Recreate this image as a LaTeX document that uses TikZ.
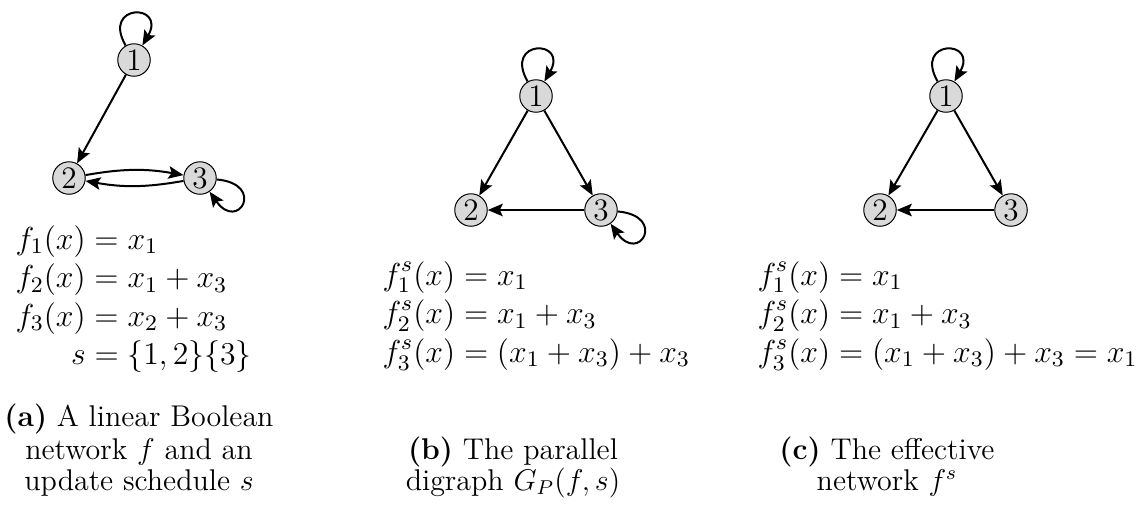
\RequirePackage{fix-cm}
\documentclass[tikz,border=0pt]{standalone}
\usepackage{amsmath}
\usepackage{amssymb}
\usepackage{tikz}
\usetikzlibrary{arrows.meta, positioning}
\tikzset{
    vertexnode/.style={
        circle,
        draw=black,
        fill=black!15,
        line width=0.4pt,
        inner sep=0pt,
        minimum size=13pt,
        font=\fontsize{12.5}{12.5}\selectfont
    },
    arcedge/.style={
        -{Stealth[length=6pt, width=5pt, inset=1.2pt]},
        line width=0.8pt,
        draw=black
    },
    selfloop/.style={
        arcedge,
        out=120, in=60, looseness=7.5
    },
    eqblock/.style={
        inner sep=0pt,
        anchor=base west,
        font=\fontsize{12.7}{12.7}\selectfont\setlength{\jot}{1.1pt}
    },
    captionline/.style={
        inner sep=0pt,
        anchor=base,
        font=\fontsize{12}{12}\selectfont
    }
}

\begin{document}
\begin{tikzpicture}[x=0.4pt, y=-0.4pt]
    \useasboundingbox (0,0) rectangle (1143,508);

    % (a) network f
    \node[vertexnode] (a1) at (134,60) {1};
    \node[vertexnode] (a2) at (69,178) {2};
    \node[vertexnode] (a3) at (200,178) {3};

    \draw[selfloop] (a1) to (a1);
    \draw[arcedge] (a1) -- (a2);
    \draw[arcedge] (a2) to[bend left=10] (a3);
    \draw[arcedge] (a3) to[bend left=10] (a2);
    \draw[arcedge] (a3) to[out=-5, in=-55, looseness=9] (a3);

    \node[eqblock] (eqa) at (15,249) {$\begin{aligned}[t]
        f_1(x) &= x_1\\
        f_2(x) &= x_1 + x_3\\
        f_3(x) &= x_2 + x_3\\
        s &= \{1,2\}\{3\}
    \end{aligned}$};
    \node[captionline] (capa1) at (139,426) {\textbf{(a)} A linear Boolean};
    \node[captionline] (capa2) at (139,459) {network $f$ and an};
    \node[captionline] (capa3) at (139,490) {update schedule $s$};

    % (b) parallel digraph
    \node[vertexnode] (b1) at (536,96) {1};
    \node[vertexnode] (b2) at (471,210) {2};
    \node[vertexnode] (b3) at (601,210) {3};

    \draw[selfloop] (b1) to (b1);
    \draw[arcedge] (b1) -- (b2);
    \draw[arcedge] (b1) -- (b3);
    \draw[arcedge] (b3) -- (b2);
    \draw[arcedge] (b3) to[out=-5, in=-55, looseness=9] (b3);

    \node[eqblock] (eqb) at (382,285) {$\begin{aligned}[t]
        f^s_1(x) &= x_1\\
        f^s_2(x) &= x_1 + x_3\\
        f^s_3(x) &= (x_1 + x_3) + x_3
    \end{aligned}$};
    \node[captionline] (capb1) at (513,459) {\textbf{(b)} The parallel};
    \node[captionline] (capb2) at (513,490) {digraph $G_P(f,s)$};

    % (c) effective network
    \node[vertexnode] (c1) at (946,96) {1};
    \node[vertexnode] (c2) at (880,210) {2};
    \node[vertexnode] (c3) at (1011,210) {3};

    \draw[selfloop] (c1) to (c1);
    \draw[arcedge] (c1) -- (c2);
    \draw[arcedge] (c1) -- (c3);
    \draw[arcedge] (c3) -- (c2);

    \node[eqblock] (eqc) at (757,285) {$\begin{aligned}[t]
        f^s_1(x) &= x_1\\
        f^s_2(x) &= x_1 + x_3\\
        f^s_3(x) &= (x_1 + x_3) + x_3 = x_1
    \end{aligned}$};
    \node[captionline] (capc1) at (887,459) {\textbf{(c)} The effective};
    \node[captionline] (capc2) at (887,490) {network $f^s$};
\end{tikzpicture}
\end{document}
